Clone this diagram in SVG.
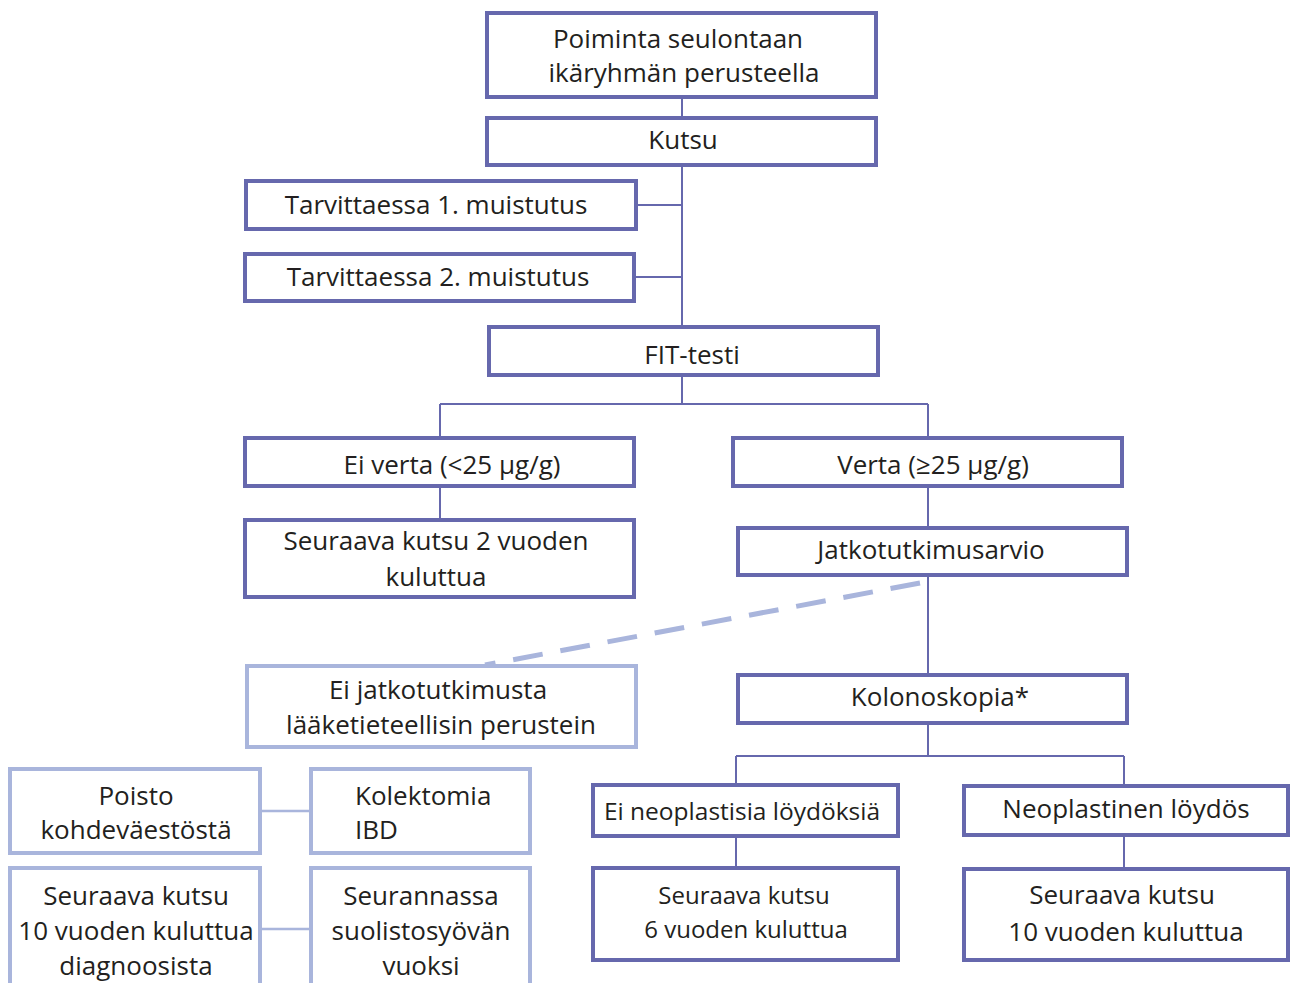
<svg xmlns="http://www.w3.org/2000/svg" width="1290" height="983" viewBox="0 0 1290 983">
<style>
.b{fill:#fff;stroke:#6668ad;stroke-width:4}
.l{fill:#fff;stroke:#a9b5dc;stroke-width:4}
.t{font-family:"Open Sans","Liberation Sans",sans-serif;font-size:26px;fill:#231f20;text-anchor:middle;dominant-baseline:central}
.s{font-size:24px}
.c{fill:none;stroke:#6668ad;stroke-width:2}
.cl{fill:none;stroke:#a9b5dc;stroke-width:2.5}
</style>
<rect width="1290" height="983" fill="#fff"/>
<g id="connectors">
<path class="c" d="M682 97V118M682 165V327M636 205H682M634 277H682M682 375V404M440 404H928M440 404V438M928 404V438M440 486V520M928 486V528M928 575V675M928 723V756M736 756H1124M736 756V785M1124 756V786M736 836V868M1124 835V869"/>
<path d="M920 583L485 665" fill="none" stroke="#a9b5dc" stroke-width="5" stroke-dasharray="30 18"/>
<path class="cl" d="M260 811H310M260 929H310"/>
</g>
<g id="n1"><rect class="b" x="487" y="13" width="389" height="84"/><text class="t" x="678" y="38">Poiminta seulontaan</text><text class="t" x="684" y="72">ikäryhmän perusteella</text></g>
<g id="n2"><rect class="b" x="487" y="118" width="389" height="47"/><text class="t" x="683" y="139">Kutsu</text></g>
<g id="n3"><rect class="b" x="246" y="181" width="390" height="48"/><text class="t" x="436" y="204">Tarvittaessa 1. muistutus</text></g>
<g id="n4"><rect class="b" x="245" y="254" width="389" height="47"/><text class="t" x="438" y="276">Tarvittaessa 2. muistutus</text></g>
<g id="n5"><rect class="b" x="489" y="327" width="389" height="48"/><text class="t" x="692" y="354">FIT-testi</text></g>
<g id="n6"><rect class="b" x="245" y="438" width="389" height="48"/><text class="t" x="452" y="464">Ei verta (&lt;25 µg/g)</text></g>
<g id="n7"><rect class="b" x="733" y="438" width="389" height="48"/><text class="t" x="933" y="464">Verta (≥25 µg/g)</text></g>
<g id="n8"><rect class="b" x="245" y="520" width="389" height="77"/><text class="t" x="436" y="540">Seuraava kutsu 2 vuoden</text><text class="t" x="436" y="576">kuluttua</text></g>
<g id="n9"><rect class="b" x="738" y="528" width="389" height="47"/><text class="t" x="931" y="549">Jatkotutkimusarvio</text></g>
<g id="n10"><rect class="l" x="247" y="666" width="389" height="81"/><text class="t" x="438" y="689">Ei jatkotutkimusta</text><text class="t" x="441" y="724">lääketieteellisin perustein</text></g>
<g id="n11"><rect class="b" x="738" y="675" width="389" height="48"/><text class="t" x="940" y="696">Kolonoskopia*</text></g>
<g id="n12"><rect class="b" x="593" y="785" width="305" height="51"/><text class="t s" x="742" y="810" style="font-size:24.5px">Ei neoplastisia löydöksiä</text></g>
<g id="n13"><rect class="b" x="964" y="786" width="324" height="49"/><text class="t" x="1126" y="808">Neoplastinen löydös</text></g>
<g id="n14"><rect class="b" x="593" y="868" width="305" height="92"/><text class="t s" x="744" y="894">Seuraava kutsu</text><text class="t s" x="746" y="928">6 vuoden kuluttua</text></g>
<g id="n15"><rect class="b" x="964" y="869" width="324" height="91"/><text class="t" x="1122" y="894">Seuraava kutsu</text><text class="t" x="1126" y="931">10 vuoden kuluttua</text></g>
<g id="n16"><rect class="l" x="10" y="769" width="250" height="84"/><text class="t" x="136" y="795">Poisto</text><text class="t" x="136" y="829">kohdeväestöstä</text></g>
<g id="n17"><rect class="l" x="311" y="769" width="219" height="84"/><text class="t" x="355" y="795" style="text-anchor:start">Kolektomia</text><text class="t" x="355" y="829" style="text-anchor:start">IBD</text></g>
<g id="n18"><rect class="l" x="10" y="868" width="250" height="125"/><text class="t" x="136" y="895">Seuraava kutsu</text><text class="t" x="136" y="930">10 vuoden kuluttua</text><text class="t" x="136" y="965">diagnoosista</text></g>
<g id="n19"><rect class="l" x="311" y="868" width="219" height="125"/><text class="t" x="421" y="895">Seurannassa</text><text class="t" x="421" y="930">suolistosyövän</text><text class="t" x="421" y="965">vuoksi</text></g>
</svg>
